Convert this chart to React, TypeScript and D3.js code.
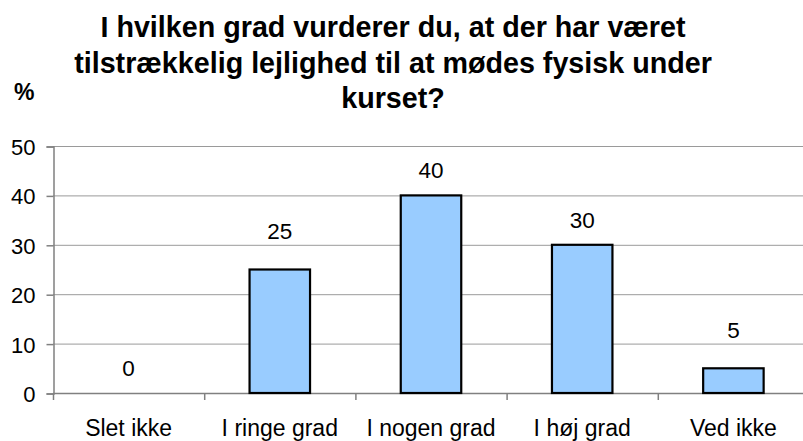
import React, { Component } from 'react';
import * as d3 from 'd3';

// 数据
const categories = ['Slet ikke', 'I ringe grad', 'I nogen grad', 'I høj grad', 'Ved ikke'];
const values = [0, 25, 40, 30, 5];
const yTicks = [0, 10, 20, 30, 40, 50];
const titleLines = [
  'I hvilken grad vurderer du, at der har været',
  'tilstrækkelig lejlighed til at mødes fysisk under',
  'kurset?',
];
const yLabel = '%';

const WIDTH = 803;
const HEIGHT = 441;
const FONT = "'Liberation Sans', Arial, Helvetica, sans-serif";

class BarChart extends Component<{}> {
  svgRef = React.createRef<SVGSVGElement>();

  /**
   * 绘制柱状图
   */
  drawBars() {
    const svg = d3.select(this.svgRef.current);
    svg.selectAll('*').remove();

    const plotLeft = 53;
    const plotRight = 809; // 右边界在窗口外
    const plotTop = 146;
    const plotBottom = 393;

    const x = d3.scaleBand<string>().domain(categories).range([plotLeft, plotRight]).padding(0);
    const y = d3.scaleLinear().domain([0, 50]).range([plotBottom, plotTop]);
    const barWidth = x.bandwidth() * 0.4;
    const center = (c: string) => (x(c) as number) + x.bandwidth() / 2;

    // 标题
    const title = svg
      .append('text')
      .attr('text-anchor', 'middle')
      .attr('font-family', FONT)
      .attr('font-weight', 'bold')
      .attr('font-size', 28.7)
      .attr('fill', '#000');
    titleLines.forEach((line, i) => {
      title
        .append('tspan')
        .attr('x', 393)
        .attr('y', 37 + i * 35.7)
        .text(line);
    });

    // % 标签
    svg
      .append('text')
      .attr('x', 14)
      .attr('y', 100)
      .attr('font-family', FONT)
      .attr('font-weight', 'bold')
      .attr('font-size', 23)
      .text(yLabel);

    // 网格线
    svg
      .append('g')
      .selectAll('line')
      .data(yTicks.filter((t) => t > 0))
      .enter()
      .append('line')
      .attr('x1', plotLeft)
      .attr('x2', WIDTH)
      .attr('y1', (d) => y(d) + 0.5)
      .attr('y2', (d) => y(d) + 0.5)
      .attr('stroke', '#9a9a9a')
      .attr('stroke-width', 1);

    // y 轴
    const yAxis = d3
      .axisLeft(y)
      .tickValues(yTicks)
      .tickSize(7)
      .tickPadding(11)
      .tickFormat(d3.format('d'));
    const yG = svg
      .append('g')
      .attr('transform', `translate(${plotLeft + 0.5},0.5)`)
      .call(yAxis);
    yG.select('.domain').attr('stroke', '#808080').attr('stroke-width', 1.5);
    yG.selectAll('.tick line').attr('stroke', '#808080').attr('stroke-width', 1.5);
    yG.selectAll('.tick text')
      .attr('font-family', FONT)
      .attr('font-size', 22)
      .attr('fill', '#000')
      .attr('dy', '0.36em');

    // x 轴线 + 分隔刻度
    svg
      .append('line')
      .attr('x1', plotLeft)
      .attr('x2', WIDTH)
      .attr('y1', plotBottom + 0.5)
      .attr('y2', plotBottom + 0.5)
      .attr('stroke', '#808080')
      .attr('stroke-width', 1.5);
    svg
      .append('g')
      .selectAll('line')
      .data(categories.map((c) => x(c) as number))
      .enter()
      .append('line')
      .attr('x1', (d) => d + 0.5)
      .attr('x2', (d) => d + 0.5)
      .attr('y1', plotBottom)
      .attr('y2', plotBottom + 7)
      .attr('stroke', '#808080')
      .attr('stroke-width', 1.5);

    // 类别标签
    svg
      .append('g')
      .selectAll('text')
      .data(categories)
      .enter()
      .append('text')
      .attr('x', (d) => center(d))
      .attr('y', 436)
      .attr('text-anchor', 'middle')
      .attr('font-family', FONT)
      .attr('font-size', 23)
      .attr('fill', '#000')
      .text((d) => d);

    // 柱子（0 值不画）
    svg
      .append('g')
      .selectAll('rect')
      .data(values.map((v, i) => ({ v, c: categories[i] })).filter((d) => d.v > 0))
      .enter()
      .append('rect')
      .attr('x', (d) => center(d.c) - barWidth / 2)
      .attr('y', (d) => y(d.v))
      .attr('width', barWidth)
      .attr('height', (d) => plotBottom - y(d.v))
      .attr('fill', '#99ccff')
      .attr('stroke', '#000')
      .attr('stroke-width', 2.2);

    // 数值标签（避开网格线）
    const gridYs = yTicks.map((t) => y(t));
    svg
      .append('g')
      .selectAll('text')
      .data(values)
      .enter()
      .append('text')
      .attr('x', (d, i) => center(categories[i]))
      .attr('y', (d) => {
        let base = y(d) - 17;
        const hit = gridYs.find((g) => g > base - 17 && g < base + 2);
        if (hit !== undefined) base = hit - 6;
        return base;
      })
      .attr('text-anchor', 'middle')
      .attr('font-family', FONT)
      .attr('font-size', 22.5)
      .attr('fill', '#000')
      .text((d) => d);
  }

  componentDidMount() {
    this.drawBars();
  }

  componentDidUpdate() {
    this.drawBars();
  }

  render() {
    return (
      <svg
        ref={this.svgRef}
        width={WIDTH}
        height={HEIGHT}
        style={{ position: 'absolute', left: 0, top: 0, background: '#fff', display: 'block' }}
      />
    );
  }
}

export default function App() {
  return <BarChart />;
}
